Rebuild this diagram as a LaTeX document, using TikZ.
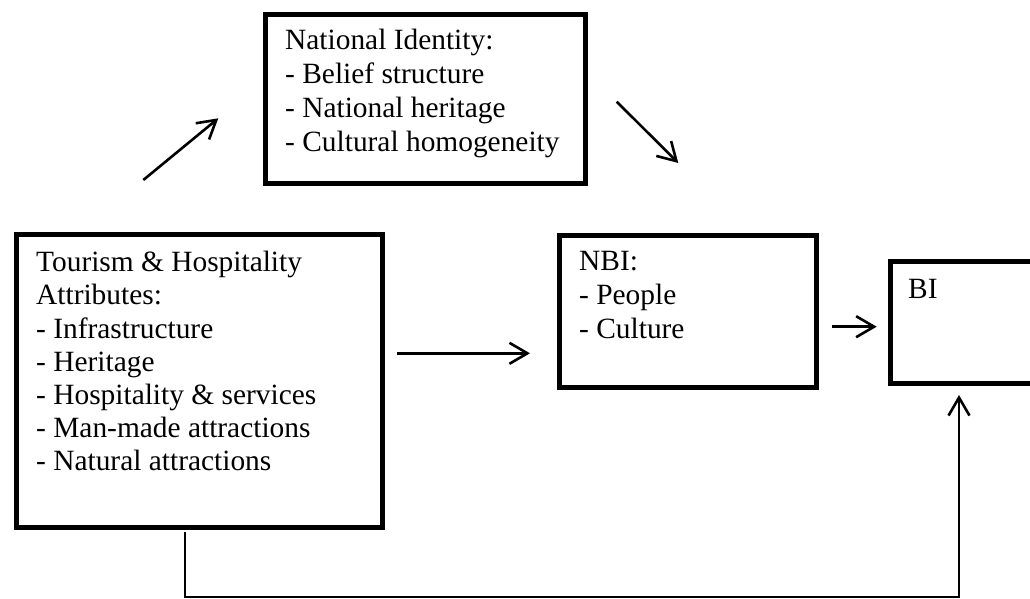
\documentclass[tikz,border=0pt]{standalone}
\usepackage{fontspec}
\setmainfont{Liberation Serif}
\usetikzlibrary{arrows.meta}
\begin{document}
\begin{tikzpicture}[x=1pt,y=-1pt,
  box/.style={draw, line width=5pt, inner sep=0pt, anchor=north west},
  txt/.style={inner sep=0pt, anchor=base west},
  flow/.style={line width=2.6pt, -{Straight Barb[length=18pt,width=21pt]}},
  back/.style={line width=1.6pt, -{Straight Barb[length=18pt,width=21pt,line width=2.6pt]}}]
\useasboundingbox (0,0) rectangle (1030,599);
% boxes (outline only)
\node[box, minimum width=320pt, minimum height=169pt] (ni) at (262.5,12) {};
\node[box, minimum width=366pt, minimum height=293pt] (tour) at (14,232) {};
\node[box, minimum width=257pt, minimum height=152pt] (nbi) at (556.5,232.5) {};
\node[box, minimum width=160pt, minimum height=121.5pt] (bi) at (887.5,259) {};
% box texts
\node[txt] (niText) at (285,49.3) {\fontsize{29.4}{34.1}\selectfont
  \begin{tabular}[t]{@{}l@{}}National Identity:\\- Belief structure\\- National heritage\\- Cultural homogeneity\end{tabular}};
\node[txt] (tourText) at (36,271.7) {\fontsize{29.4}{33.2}\selectfont
  \begin{tabular}[t]{@{}l@{}}Tourism \& Hospitality\\Attributes:\\- Infrastructure\\- Heritage\\- Hospitality \& services\\- Man-made attractions\\- Natural attractions\end{tabular}};
\node[txt] (nbiText) at (579,270) {\fontsize{29.4}{34.2}\selectfont
  \begin{tabular}[t]{@{}l@{}}NBI:\\- People\\- Culture\end{tabular}};
\node[txt] (biText) at (908,298) {\fontsize{29.4}{34}\selectfont BI};
% free arrow ends
\coordinate (upFrom) at (143.3,180);
\coordinate (upTo) at (218.3,118.3);
\coordinate (downFrom) at (616.7,101.7);
\coordinate (downTo) at (678.3,163);
\coordinate (midFrom) at (396.7,353.3);
\coordinate (midTo) at (530,353.3);
\coordinate (biFrom) at (831.7,326.7);
\coordinate (biTo) at (876.7,326.7);
\coordinate (loopFrom) at (185,532);
\coordinate (loopA) at (185,597);
\coordinate (loopB) at (959,597);
\coordinate (loopTo) at (959,395);
% connectors
\draw[flow] (upFrom) -- (upTo);
\draw[flow] (downFrom) -- (downTo);
\draw[flow] (midFrom) -- (midTo);
\draw[flow] (biFrom) -- (biTo);
\draw[back] (loopFrom) -- (loopA) -- (loopB) -- (loopTo);
\end{tikzpicture}
\end{document}
